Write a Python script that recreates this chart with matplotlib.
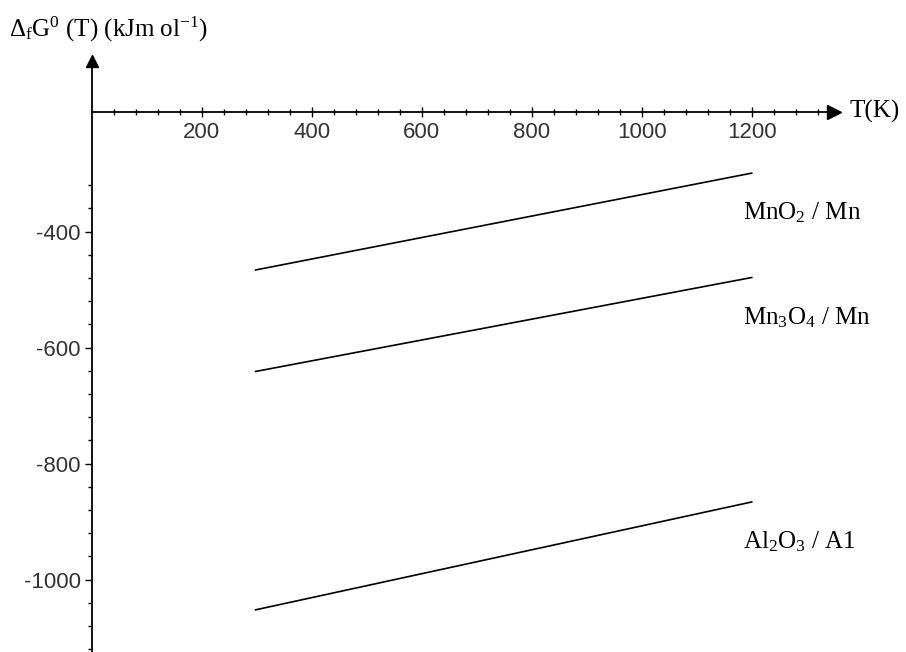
import matplotlib
matplotlib.use('Agg')
import matplotlib.pyplot as plt
from matplotlib.ticker import FixedLocator

# data (T in K, dG in kJ/mol)
temps = [298, 1200]
mno2 = [-466, -299]
mn3o4 = [-641, -479]
al2o3 = [-1052, -866]
labels = ['MnO$_2$ / Mn', 'Mn$_3$O$_4$ / Mn', 'Al$_2$O$_3$ / A1']
xticks = [200, 400, 600, 800, 1000, 1200]
yticks = [-400, -600, -800, -1000]
x_cross = -193

plt.rcParams['axes.unicode_minus'] = False
plt.rcParams['mathtext.fontset'] = 'custom'
plt.rcParams['mathtext.rm'] = 'Liberation Serif'
plt.rcParams['mathtext.it'] = 'Liberation Serif:italic'

fig = plt.figure(figsize=(9.06, 6.52), dpi=100)
ax = fig.add_axes([0, 0, 1, 1])
ax.set_xlim(-166.7, 1480.5)
ax.set_ylim(-1124.7, -0.5)

for s in ['top', 'right']:
    ax.spines[s].set_visible(False)
ax.spines['left'].set_position(('data', 0))
ax.spines['bottom'].set_position(('data', x_cross))
ax.spines['left'].set_bounds(-1125, -105)
ax.spines['bottom'].set_bounds(0, 1345)
ax.spines['left'].set_linewidth(1.3)
ax.spines['bottom'].set_linewidth(1.3)

# arrow heads
ax.plot(1350, x_cross, marker='>', color='black', markersize=10, clip_on=False)
ax.plot(0, -105, marker='^', color='black', markersize=9, clip_on=False)

ax.set_xticks(xticks)
ax.set_yticks(yticks)
ax.xaxis.set_minor_locator(FixedLocator([t for t in range(40, 1321, 40) if t % 200]))
ax.yaxis.set_minor_locator(FixedLocator([t for t in range(-1120, -319, 40) if t % 200]))
ax.tick_params(axis='x', which='major', direction='inout', length=7, width=1, pad=4)
ax.tick_params(axis='x', which='minor', direction='inout', length=4, width=1)
ax.tick_params(axis='y', which='major', direction='out', length=5, width=1, pad=3)
ax.tick_params(axis='y', which='minor', direction='out', length=3, width=1)
for lab in ax.get_xticklabels() + ax.get_yticklabels():
    lab.set_fontfamily('Liberation Sans')
    lab.set_fontsize(16)
    lab.set_color('#333333')

for ys, lab in zip([mno2, mn3o4, al2o3], labels):
    ax.plot(temps, ys, color='black', lw=1.2)
    ax.annotate(lab, xy=(temps[-1], ys[-1]), xytext=(-6, -20), textcoords='offset points',
                ha='left', va='top', fontsize=18, family='Liberation Serif')

ax.text(1378, x_cross, 'T(K)', ha='left', va='center', fontsize=18, family='Liberation Serif')
ax.text(-150, -52, r'$\Delta_{\rm f}\mathrm{G}^{0}$ (T) (kJm ol$^{-1}$)', ha='left', va='center',
        fontsize=18, family='Liberation Serif')

fig.savefig('out.png', dpi=100)
